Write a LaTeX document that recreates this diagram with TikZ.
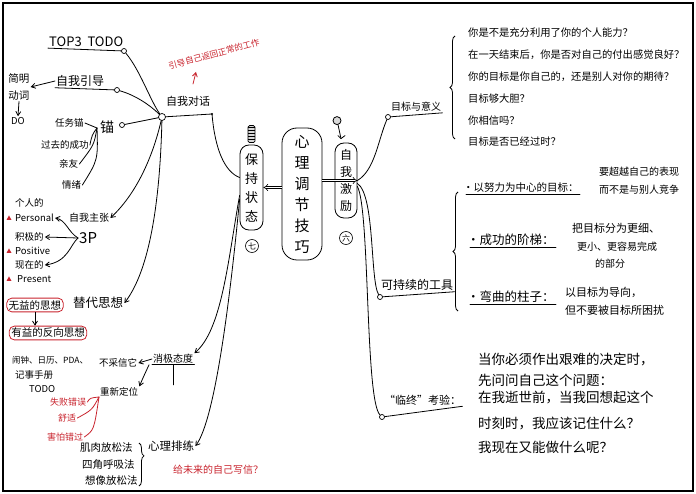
\documentclass[tikz,border=0pt]{standalone}
\usepackage{fontspec}
\setmainfont{Noto Sans CJK SC}
\usetikzlibrary{positioning, calc, arrows.meta, decorations.pathreplacing}
\definecolor{inkred}{RGB}{200,35,45}
\newcommand{\fsz}[1]{\fontsize{#1}{#1}\selectfont}

\begin{document}
\begin{tikzpicture}[
    x=1pt, y=-1pt,
    >={Straight Barb[length=4pt, width=5pt]},
    % Styles
    ink/.style={line width=0.8pt, line cap=round},
    lbl/.style={anchor=west, inner sep=1pt, font=\fsz{11}},
    slbl/.style={anchor=west, inner sep=1pt, font=\fsz{9.5}},
    redlbl/.style={anchor=west, inner sep=1pt, text=inkred, font=\fsz{9}},
    qlbl/.style={anchor=west, inner sep=1pt, font=\fsz{10.3}},
    knot/.style={circle, draw, line width=0.7pt, fill=white, inner sep=0pt, minimum size=5pt},
    vbox/.style={draw, line width=0.8pt, rounded corners=9pt, align=center, inner sep=0pt},
    redbox/.style={draw=inkred, line width=0.8pt, rounded corners=5pt, inner sep=2pt, font=\fsz{10.5}},
    num/.style={circle, draw, line width=0.6pt, inner sep=0pt, minimum size=13pt, font=\fsz{8}},
    dbl/.style={double, double distance=1.8pt, line width=0.6pt, -Implies},
    brace/.style={decorate, decoration={brace, amplitude=5pt}, line width=0.8pt}
  ]
  \useasboundingbox (0,0) rectangle (696,494);
  \draw[line width=1.6pt] (3,3) rectangle (693,491);

  % 1. Centre column
  \node[vbox, minimum width=23pt, minimum height=85pt, font=\fontsize{13}{19}\selectfont] (keep) at (251.5,187.5) {保\\持\\状\\态};
  \node[vbox, minimum width=40pt, minimum height=132pt, rounded corners=15pt, font=\fontsize{15}{21}\selectfont] (core) at (302,194) {心\\理\\调\\节\\技\\巧};
  \node[vbox, minimum width=22pt, minimum height=75pt, font=\fontsize{12}{17}\selectfont] (motiv) at (346,180.5) {自\\我\\激\\励};
  \node[num] (seven) at (252,246) {七};
  \node[num] (six) at (346,238) {六};
  \draw[dbl] (core.west |- keep.east) -- (keep.east);
  \draw[dbl] (core.east |- motiv.east) -- (motiv.east);
  % screw and pin
  \draw[ink, rounded corners=1.5pt, fill=gray!30] ($(keep.north)+(-3.5,-2)$) rectangle ($(keep.north)+(3.5,-19)$);
  \foreach \yy in {-5,-8,...,-17}
    \draw[line width=0.5pt] ($(keep.north)+(-3.5,\yy)$) -- ($(keep.north)+(3.5,\yy)$);
  \draw[ink, fill=gray!30] ($(motiv.north)+(-9,-22)$) circle (4);
  \draw[ink] ($(motiv.north)+(-8,-18)$) -- ($(motiv.north)+(-5,-4)$);
  \draw[ink] ($(motiv.north)+(-8,-7)$) -- ($(motiv.north)+(-5,-4)$) -- ($(motiv.north)+(-1,-7)$);

  % 2. Self talk cluster
  \node[knot, minimum size=7pt] (hub) at (162,117) {};
  \node[lbl] (talk) at (165,101) {自我对话};
  \coordinate (hubR) at (212,114);
  \fill (hubR) circle (1.2);
  \node[redlbl, font=\fsz{8.5}, rotate=15, anchor=center] (note) at (214,54) {引导自己返回正常的工作};
  \coordinate (noteTail) at (193,84);
  \draw[ink, inkred, ->] (noteTail) -- ++(3,-12);

  \node[lbl, font=\fsz{13}] (top3) at (48,42) {TOP3\ \ TODO};
  \node[knot] (top3K) at (124,51) {};
  \draw[ink] (top3.south west) -- (top3K);
  \node[lbl, font=\fsz{12}] (guide) at (55,81) {自我引导};
  \node[knot] (guideK) at (117,90) {};
  \draw[ink] (guide.south west) -- (guideK);
  \node[slbl, anchor=center, align=center, font=\fontsize{10.5}{17}\selectfont] (verb) at (19,87) {简明\\动词};
  \node[slbl, anchor=center] (do) at (18,121) {DO};
  \draw[ink, ->] (guide.west) -- (verb.east);
  \draw[ink, ->] (verb.south) -- (do.north);

  \node[lbl, font=\fsz{14}] (mao) at (99,127) {锚};
  \node[knot] (maoK) at (122,125) {};
  \coordinate (maoRoot) at (97,128);
  \node[slbl] (task) at (54,123) {任务锚};
  \node[slbl] (past) at (40,145) {过去的成功};
  \node[slbl] (kin) at (58,164) {亲友};
  \node[slbl] (mood) at (61,185) {情绪};
  \draw[ink] (task.east) -- (maoRoot);
  \draw[ink] (maoRoot) .. controls (92,135) .. (past.east);
  \draw[ink] (maoRoot) .. controls (94,145) .. (kin.east);
  \draw[ink] (maoRoot) .. controls (98,160) .. (mood.east);

  \draw[ink] (top3K) .. controls (140,70) and (150,100) .. (hub);
  \draw[ink] (guideK) .. controls (135,95) and (150,105) .. (hub);
  \draw[ink] (maoK) -- (hub);
  \draw[ink] (hub) -- (hubR);
  \draw[ink] (hubR) .. controls (215,150) and (225,172) .. ($(keep.west)+(0,-10)$);

  % 3. Assertion and 3P
  \node[slbl, font=\fsz{10}] (claim) at (68,218) {自我主张};
  \node[lbl, font=\fsz{15}] (threeP) at (78,238) {3P};
  \node[slbl] (p1) at (14,203) {个人的};
  \node[slbl] (p1e) at (14,218) {Personal};
  \node[slbl] (p2) at (14,237) {积极的};
  \node[slbl] (p2e) at (14,251) {Positive};
  \node[slbl] (p3) at (14,265) {现在的};
  \node[slbl] (p3e) at (16,279) {Present};
  \foreach \yy in {218,251,279}
    \fill[inkred] (6.5,\yy+2) -- (11.5,\yy+2) -- (9,\yy-2.5) -- cycle;
  \draw[ink, ->] (threeP.west) .. controls (68,232) and (66,220) .. (p1e.east);
  \draw[ink, ->] (threeP.west) -- (p2.east);
  \draw[ink, ->] (threeP.west) .. controls (70,245) and (68,262) .. (p3.east);
  \draw[ink, ->] (hub) .. controls (152,160) and (135,195) .. (claim.east);

  % 4. Substitute thoughts
  \node[lbl, font=\fsz{12.5}] (subst) at (72,303) {替代思想};
  \node[redbox] (bad) at (35,305) {无益的思想};
  \node[redbox] (good) at (48,333) {有益的反向思想};
  \draw[ink, ->] (bad.south) -- (bad.south |- good.north);
  \draw[ink, ->] (hub) .. controls (160,200) and (150,270) .. (subst.east);

  % 5. Negative attitude
  \node[slbl, font=\fsz{8.5}] (gear1) at (11,360) {闹钟、日历、PDA、};
  \node[slbl] (gear2) at (14,375) {记事手册};
  \node[slbl] (gear3) at (28,389) {TODO};
  \node[lbl, font=\fsz{10}] (neg) at (152,359) {消极态度};
  \node[slbl] (distrust) at (98,363) {不采信它};
  \node[slbl] (reloc) at (99,392) {重新定位};
  \draw[ink] (neg.south west) -- (neg.south east);
  \draw[ink] (neg.south) -- ++(0,20);
  \draw[ink, ->] (neg.west) -- (distrust.east);
  \draw[ink, ->] ($(neg.south west)+(-3,0)$) .. controls (142,380) .. (reloc.north east);
  \coordinate (relocL) at (99,397);
  \node[redlbl] (fail) at (49,402) {失败错误};
  \node[redlbl] (comfy) at (57,418) {舒适};
  \node[redlbl] (fear) at (46,437) {害怕错过};
  \draw[ink, inkred] (relocL) .. controls (90,398) .. (fail.east);
  \draw[ink, inkred] (relocL) .. controls (92,410) .. (comfy.east);
  \draw[ink, inkred] (relocL) .. controls (94,430) .. (fear.east);
  \draw[ink, ->] ($(keep.west)+(0,8)$) .. controls (228,260) and (222,330) .. (neg.north east);

  % 6. Mental rehearsal
  \node[lbl, font=\fsz{11.5}] (rehearse) at (147,446) {心理排练};
  \node[slbl, font=\fsz{10.5}] (relax1) at (79,448) {肌肉放松法};
  \node[slbl, font=\fsz{10.5}] (relax2) at (81,465) {四角呼吸法};
  \node[slbl, font=\fsz{10.5}] (relax3) at (84,481) {想像放松法};
  \draw[brace, decoration={aspect=0.3}] (139,443) -- (139,486);
  \node[redlbl, font=\fsz{10}] (letter) at (172,470) {给未来的自己写信？};
  \draw[ink, ->] ($(keep.west)+(0,12)$) .. controls (230,300) and (215,420) .. (rehearse.east);

  % 7. Goals and meaning
  \node[lbl, font=\fsz{10}] (goal) at (390,107) {目标与意义};
  \node[knot] (goalK) at (388,117) {};
  \draw[ink] (goalK) -- (goal.south east);
  \draw[brace] (455,139) -- (455,36);
  \foreach \q [count=\i] in {你是不是充分利用了你的个人能力？,
      在一天结束后，你是否对自己的付出感觉良好？,
      你的目标是你自己的，还是别人对你的期待？,
      目标够大胆？, 你相信吗？, 目标是否已经过时？}
    \node[qlbl] (q\i) at (467, {33+21.8*(\i-1)}) {\q};
  \draw[ink] (goalK) .. controls (378,140) and (375,170) .. (motiv.east);

  % 8. Sustainable tools
  \node[lbl, font=\fsz{12}] (tool) at (380,285) {可持续的工具};
  \node[knot] (toolK) at (380,297) {};
  \draw[ink] (toolK) -- (tool.south east);
  \draw[brace] (458,311) -- (458,192);
  \node[lbl, font=\fsz{10.5}] (item1) at (462,188) {·以努力为中心的目标：};
  \node[lbl, font=\fsz{12.5}] (item2) at (466,240) {·成功的阶梯：};
  \node[lbl, font=\fsz{12.5}] (item3) at (466,297) {·弯曲的柱子：};
  \foreach \k in {1,2,3}
    \draw[ink] ($(item\k.south west)+(4,0)$) -- (item\k.south east);
  \node[slbl, font=\fsz{10}] (t1a) at (598,172) {要超越自己的表现};
  \node[slbl, font=\fsz{10}] (t1b) at (598,190) {而不是与别人竞争};
  \node[slbl, font=\fsz{11}] (t2a) at (571,228) {把目标分为更细、};
  \node[slbl, font=\fsz{10}] (t2b) at (576,247) {更小、更容易完成};
  \node[slbl, font=\fsz{10}] (t2c) at (594,264) {的部分};
  \node[slbl, font=\fsz{11}] (t3a) at (564,292) {以目标为导向，};
  \node[slbl, font=\fsz{11}] (t3b) at (564,310) {但不要被目标所困扰};
  \draw[ink] ($(motiv.east)+(0,3)$) .. controls (375,195) and (370,280) .. (toolK);

  % 9. Deathbed test
  \node[lbl, font=\fsz{11}] (exam) at (383,400) {“临终”考验：};
  \node[knot] (examK) at (382,417) {};
  \draw[ink] (examK) -- (exam.south east);
  \foreach \t/\yy [count=\i] in {当你必须作出艰难的决定时，/360, 先问问自己这个问题：/380,
      在我逝世前，当我回想起这个/398, 时刻时，我应该记住什么？/423, 我现在又能做什么呢？/447}
    \node[lbl, font=\fsz{13.5}] (e\i) at (477,\yy) {\t};
  \draw[ink] ($(motiv.east)+(0,6)$) .. controls (370,210) and (365,400) .. (examK);
\end{tikzpicture}
\end{document}
